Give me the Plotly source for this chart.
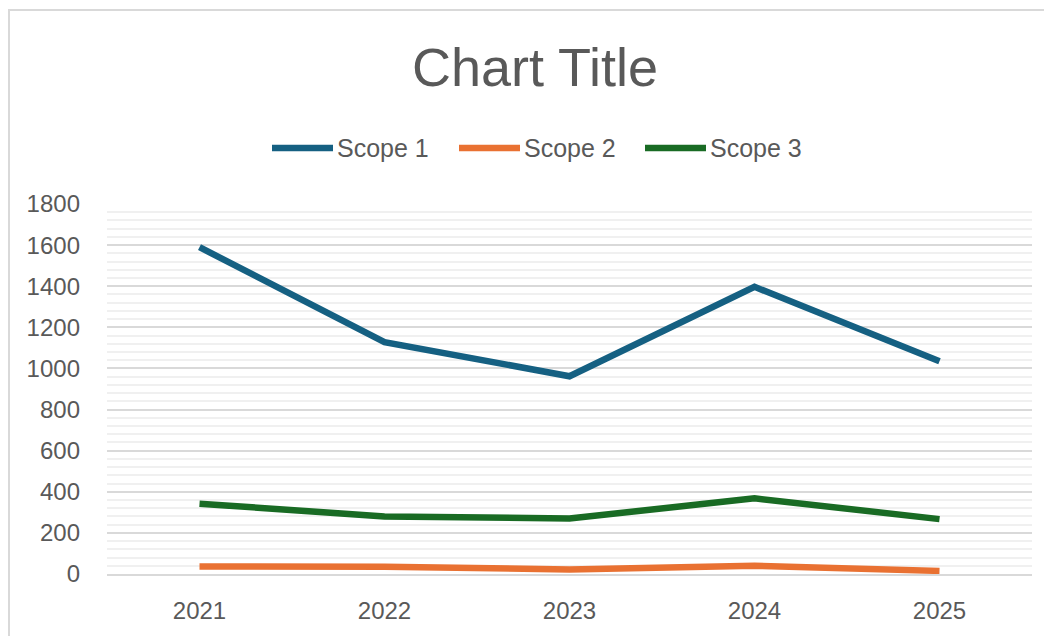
import plotly.graph_objects as go

years = ["2021", "2022", "2023", "2024", "2025"]
scope1 = [1590, 1128, 962, 1397, 1035]
scope2 = [37, 35, 22, 40, 15]
scope3 = [342, 280, 270, 368, 267]
series_names = ["Scope 1", "Scope 2", "Scope 3"]
colors = ["#156082", "#E97132", "#196B24"]
y_ticks = [0, 200, 400, 600, 800, 1000, 1200, 1400, 1600, 1800]

# page offset of the plot div (browser default body margin)
OFF = 8
W, H = 1052 - OFF, 636 - OFF
# plot area in page pixels: x 107..1032, y 204..574
L, R, T, B = 107 - OFF, 1052 - 1032, 204 - OFF, 636 - 574
PW, PH = W - L - R, H - T - B

def px_x(p):
    return (p - OFF - L) / PW

def px_y(p):
    return (H - B - (p - OFF)) / PH

FONT = "Liberation Sans"
TXT = "#595959"

fig = go.Figure()
for name, vals, col in zip(series_names, [scope1, scope2, scope3], colors):
    fig.add_trace(go.Scatter(x=years, y=vals, mode="lines", name=name,
                             line=dict(color=col, width=6.5), showlegend=False))

shapes = []
annotations = []
# manual legend
leg_y = 148
leg_x = [272, 459, 645]
for x0, name, col in zip(leg_x, series_names, colors):
    shapes.append(dict(type="line", xref="paper", yref="paper",
                       x0=px_x(x0), x1=px_x(x0 + 61), y0=px_y(leg_y), y1=px_y(leg_y),
                       line=dict(color=col, width=6.5)))
    annotations.append(dict(xref="paper", yref="paper", x=px_x(x0 + 63), y=px_y(leg_y),
                            text=name, showarrow=False, xanchor="left", yanchor="middle",
                            font=dict(family=FONT, size=25, color=TXT)))
# chart border (left/top visible)
shapes.append(dict(type="rect", xref="paper", yref="paper",
                   x0=px_x(9), x1=px_x(1052 + 20), y0=px_y(636 + 20), y1=px_y(10),
                   line=dict(color="#d9d9d9", width=2), layer="below"))

fig.update_layout(
    width=W, height=H,
    margin=dict(l=L, r=R, t=T, b=B),
    paper_bgcolor="white", plot_bgcolor="white",
    title=dict(text="Chart Title", x=(535 - OFF) / W, xanchor="center",
               y=1 - (67 - OFF) / H, yanchor="middle",
               font=dict(family=FONT, size=54, color=TXT)),
    shapes=shapes, annotations=annotations,
    showlegend=False,
)
fig.update_xaxes(type="category", range=[-0.5, 4.5], showgrid=False, zeroline=False,
                 showline=True, linecolor="#d9d9d9", linewidth=1.5,
                 ticks="", ticklabelstandoff=14,
                 tickfont=dict(family=FONT, size=24, color=TXT))
fig.update_yaxes(range=[0, 1800], tickvals=y_ticks, showgrid=True, gridcolor="#d9d9d9",
                 gridwidth=1.5, zeroline=False, showline=False, ticks="",
                 ticklabelstandoff=26,
                 minor=dict(dtick=40, tick0=0, showgrid=True, gridcolor="#f0f0f0", gridwidth=1.5),
                 tickfont=dict(family=FONT, size=24, color=TXT))

fig.write_html("out.html")
